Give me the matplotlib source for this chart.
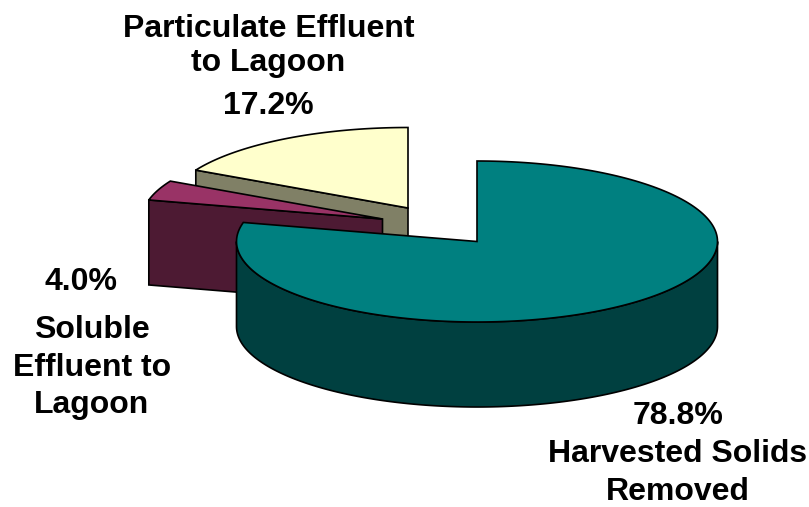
import numpy as np
import matplotlib
matplotlib.use("Agg")
from matplotlib import pyplot as plt
from matplotlib.patches import Polygon

plt.rcParams['font.family'] = ['Liberation Sans', 'DejaVu Sans']

# Slice shares in percent, clockwise from 12 o'clock
slice_names = ["Harvested Solids Removed", "Soluble Effluent to Lagoon", "Particulate Effluent to Lagoon"]
slice_values = [78.8, 4.0, 17.2]
top_colours = ["#008080", "#993366", "#FFFFCC"]
side_colours = ["#004040", "#4D1A33", "#808066"]

# Pie geometry in pixels
centres = [(477, 241.5), (382.5, 219), (408, 208)]
rx = 240.5
ry = 80.5
depth = 85

W, H = 809, 507
fig = plt.figure(figsize=(W / 100, H / 100), dpi=100)
ax = fig.add_axes([0, 0, 1, 1])
ax.set_xlim(0, W)
ax.set_ylim(H, 0)
ax.axis("off")


def rim(cx, cy, a1, a2):
    # points on the ellipse between two angles (degrees, counter clockwise)
    t = np.radians(np.linspace(a1, a2, 200))
    return np.column_stack([cx + rx * np.cos(t), cy - ry * np.sin(t)])


# angle limits of each slice, going clockwise from the top
stops = 90 - np.cumsum([0] + slice_values) * 3.6

# back slices first, the big one goes over them
for i in [2, 1, 0]:
    cx, cy = centres[i]
    a_start, a_end = stops[i], stops[i + 1]
    edge_colour = "black"

    # cut face along the leading edge, faces the viewer for the two small slices
    if i > 0:
        tip = rim(cx, cy, a_start, a_start)[0]
        face = [(cx, cy), tip, (tip[0], tip[1] + depth), (cx, cy + depth)]
        ax.add_patch(Polygon(face, closed=True, fc=side_colours[i], ec=edge_colour, lw=1.2, zorder=3 - i * 0.5))

    # outer wall, only the front half of the ellipse shows
    if i == 0:
        arc = rim(cx, cy, 180, 360)
        wall = np.vstack([arc, arc[::-1] + [0, depth]])
        ax.add_patch(Polygon(wall, closed=True, fc=side_colours[i], ec=edge_colour, lw=1.2, zorder=3.1))

    # top surface
    arc = rim(cx, cy, a_start, a_end)
    top = np.vstack([[cx, cy], arc])
    ax.add_patch(Polygon(top, closed=True, fc=top_colours[i], ec=edge_colour, lw=1.2, zorder=3.2 - i * 0.5))

# Labels, line by line
labels = [
    ("Particulate Effluent", 268.5, 29),
    ("to Lagoon", 268.5, 63),
    ("17.2%", 268.5, 106),
    ("4.0%", 81, 282.5),
    ("Soluble", 92, 329.5),
    ("Effluent to", 92, 367.5),
    ("Lagoon", 92, 405.5),
    ("78.8%", 678, 416),
    ("Harvested Solids", 677.5, 454.5),
    ("Removed", 678, 492),
]
for txt, x, y in labels:
    ax.text(x, y, txt, ha="center", va="center", fontsize=23, fontweight="bold", color="black", zorder=5)

fig.savefig("out.png", dpi=100)
